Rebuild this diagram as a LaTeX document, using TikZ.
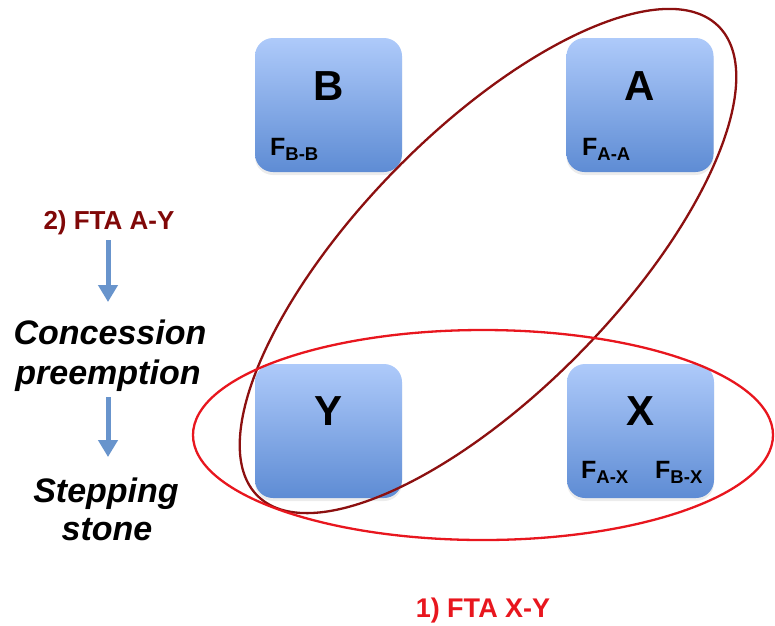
\documentclass[tikz,border=0pt]{standalone}
\usepackage{fontspec}
\setmainfont{Liberation Sans}
\usetikzlibrary{arrows.meta,shadows}
\definecolor{boxtop}{RGB}{174,202,250}
\definecolor{boxbot}{RGB}{94,140,212}
\definecolor{arrowblue}{RGB}{104,148,204}
\definecolor{ellred}{RGB}{140,16,16}
\definecolor{brightred}{RGB}{232,22,30}
\definecolor{labelred}{RGB}{128,8,8}
\newcommand\Fsub[1]{{\fontsize{25}{25}\selectfont F}\raisebox{-5pt}{\fontsize{18.5}{18.5}\selectfont #1}}
\begin{document}
\begin{tikzpicture}[x=1pt,y=-1pt,
  tile/.style={rounded corners=18pt, top color=boxtop, bottom color=boxbot, draw=none,
    minimum width=147pt, minimum height=134pt, inner sep=0pt,
    drop shadow={shadow xshift=0pt, shadow yshift=-3pt, opacity=0.15}},
  letter/.style={anchor=base, inner sep=0pt, font=\fontsize{42}{42}\selectfont\bfseries},
  flabel/.style={anchor=base west, inner sep=0pt, font=\bfseries},
  sidetext/.style={anchor=base, inner sep=0pt, font=\fontsize{34}{36}\selectfont\bfseries\itshape},
  ftalabel/.style={anchor=base, inner sep=0pt, font=\bfseries},
  bluearrow/.style={-{Triangle[width=19pt,length=17pt]}, line width=5pt, arrowblue},
  ring/.style={line width=2.3pt}]
\useasboundingbox (0,0) rectangle (775,625);
% tiles
\node[tile] (B) at (328.5,105) {};
\node[tile] (A) at (640,105) {};
\node[tile] (Y) at (328.5,431) {};
\node[tile] (X) at (640.5,431) {};
% letters
\node[letter] (lB) at (329,100) {B};
\node[letter] (lA) at (640,100) {A};
\node[letter] (lY) at (329,425) {Y};
\node[letter] (lX) at (640,425) {X};
% F labels
\node[flabel] (fBB) at (270,155) {\Fsub{B-B}};
\node[flabel] (fAA) at (582,155) {\Fsub{A-A}};
\node[flabel] (fAX) at (581,478) {\Fsub{A-X}};
\node[flabel] (fBX) at (655,478) {\Fsub{B-X}};
% ellipses
\draw[ring, ellred, rotate around={45.6:(488,261)}] (488,261) ellipse [x radius=329pt, y radius=130pt];
\draw[ring, brightred] (483,435) ellipse [x radius=290pt, y radius=105pt];
% left column
\node[ftalabel, text=labelred, font=\fontsize{26}{28}\selectfont\bfseries] (fta2) at (109,229) {2) FTA A-Y};
\node[sidetext] (conc) at (110,344) {Concession};
\node[sidetext] (preem) at (108,384) {preemption};
\node[sidetext] (stepping) at (106,502) {Stepping};
\node[sidetext] (stone) at (107,540) {stone};
\coordinate (a1s) at (108,240);
\coordinate (a1e) at (108,302);
\coordinate (a2s) at (108,397);
\coordinate (a2e) at (108,457);
\draw[bluearrow] (a1s) -- (a1e);
\draw[bluearrow] (a2s) -- (a2e);
% bottom label
\node[ftalabel, text=brightred, font=\fontsize{27}{29}\selectfont\bfseries] (fta1) at (483,617) {1) FTA X-Y};
\end{tikzpicture}
\end{document}
